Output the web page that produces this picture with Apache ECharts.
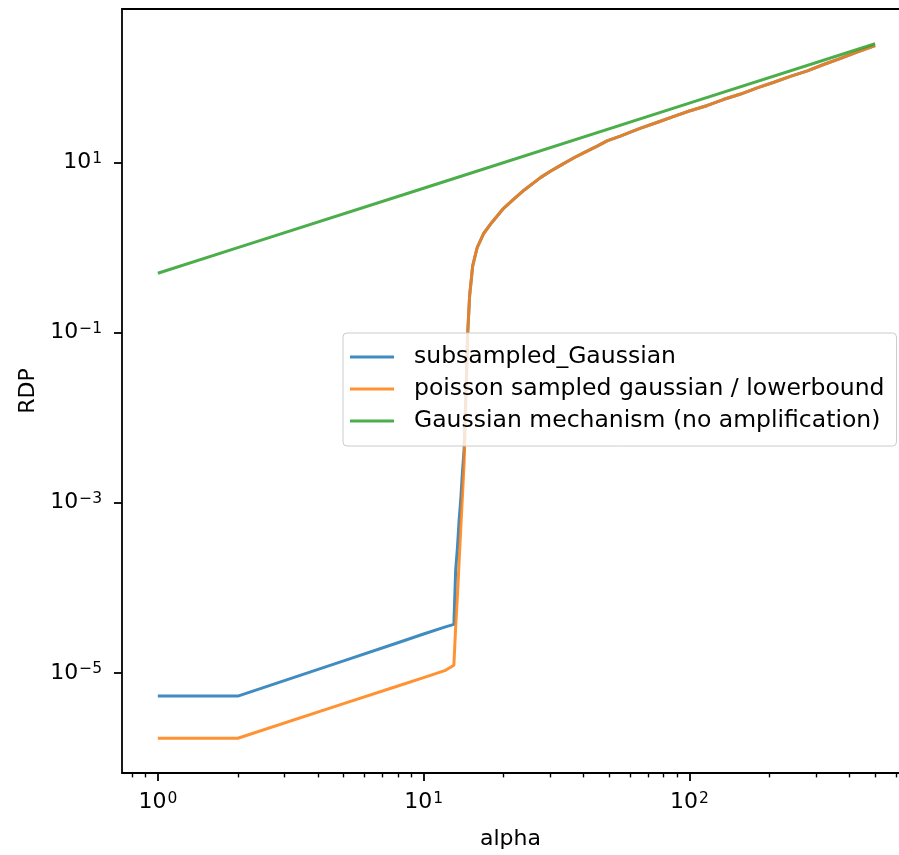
<!DOCTYPE html>
<html>
<head>
<meta charset="utf-8">
<script src="https://cdn.jsdelivr.net/npm/echarts@6/dist/echarts.min.js"></script>
<style>
html,body{margin:0;padding:0;background:#fff;}
#chart{width:899px;height:855px;}
</style>
</head>
<body>
<div id="chart"></div>
<script>
// ---- data ----
const seriesNames = ['subsampled_Gaussian', 'poisson sampled gaussian / lowerbound', 'Gaussian mechanism (no amplification)'];

const alphaCurve = [1, 2, 5, 8, 10, 12, 13, 13.2, 13.4, 13.6, 13.8, 14.0, 14.2, 14.45, 14.65, 14.9, 15.3, 15.9, 16.8, 18, 20, 22, 24, 27.6, 30, 33, 36.8, 40, 45, 49, 55, 60, 65.6, 75, 87.5, 100, 117, 135, 156, 180, 208, 240, 278, 320, 371, 430, 500];

const subsampledGaussian = [5.33e-6, 5.33e-6, 1.38e-5, 2.26e-5, 2.86e-5, 3.45e-5, 3.71e-5, 1.6e-4, 2.9e-4, 6.2e-4, 1.1e-3, 2.3e-3, 4.2e-3, 0.022, 0.0975, 0.272, 0.612, 0.997, 1.456, 1.95, 2.9, 3.8, 4.8, 6.7, 7.9, 9.4, 11.4, 13.0, 15.6, 18, 20.5, 22.8, 25.4, 29.4, 35, 40.4, 47, 55.5, 64, 75.6, 88, 103.4, 120, 142.4, 168, 200, 238];

const poissonLowerbound = [1.70e-6, 1.70e-6, 4.34e-6, 7.0e-6, 8.8e-6, 1.06e-5, 1.23e-5, 3.44e-5, 7.8e-5, 2.0e-4, 5.0e-4, 1.2e-3, 2.86e-3, 0.0193, 0.0975, 0.272, 0.612, 0.997, 1.456, 1.95, 2.9, 3.8, 4.8, 6.7, 7.9, 9.4, 11.4, 13.0, 15.6, 18, 20.5, 22.8, 25.4, 29.4, 35, 40.4, 47, 55.5, 64, 75.6, 88, 103.4, 120, 142.4, 168, 200, 238];

const alphaGaussian = [1, 2, 10, 100, 500];
const gaussianMechanism = [0.5, 1, 5, 50, 250];

const xMajorTicks = [1, 10, 100];
const xMinorTicks = [0.8, 0.9, 2, 3, 4, 5, 6, 7, 8, 9, 20, 30, 40, 50, 60, 70, 80, 90, 200, 300, 400, 500, 600];
const yMajorTicks = [1e-5, 1e-3, 1e-1, 10];

const xRange = [0.733, 615];
const yRange = [6.64e-7, 640];

// ---- styling ----
const FONT = 'DejaVu Sans';
const colors = ['#1f77b4', '#ff7f0e', '#2ca02c'];
const LINE_ALPHA = 0.85;

function pairs(xs, ys) { return xs.map((x, i) => [x, ys[i]]); }

function powLabel(v) {
  const e = Math.round(Math.log10(v));
  const s = String(e).replace('-', '\u2212');
  return '{b|10}{s|' + s + '}';
}
const richLabel = {
  b: { fontSize: 22, fontFamily: FONT, color: '#000' },
  s: { fontSize: 15.5, fontFamily: FONT, color: '#000', padding: [0, 0, 7, 1] }
};

function lineSeries(i, xs, ys) {
  return {
    name: seriesNames[i], type: 'line', xAxisIndex: 0, data: pairs(xs, ys),
    showSymbol: false, symbol: 'none',
    lineStyle: { width: 3, color: colors[i], opacity: LINE_ALPHA },
    itemStyle: { color: colors[i], opacity: LINE_ALPHA }
  };
}

const chart = echarts.init(document.getElementById('chart'), null, { renderer: 'canvas' });

const option = {
  animation: false,
  backgroundColor: '#fff',
  color: colors,
  grid: { left: 122, top: 9, right: 0, bottom: 81.5, show: false },
  legend: {
    orient: 'vertical',
    left: 343, top: 333,
    padding: [12, 12, 13, 7],
    itemGap: 8,
    itemWidth: 44, itemHeight: 3,
    icon: 'rect',
    backgroundColor: 'rgba(255,255,255,0.8)',
    borderColor: '#cccccc', borderWidth: 1, borderRadius: 4,
    textStyle: { fontFamily: FONT, fontSize: 23.5, color: '#000', padding: [0, 0, 0, 15] },
    data: seriesNames
  },
  xAxis: [{
    type: 'log', logBase: 10, min: xRange[0], max: xRange[1],
    name: 'alpha', nameLocation: 'middle', nameGap: 55,
    nameTextStyle: { fontFamily: FONT, fontSize: 22, color: '#000' },
    axisLine: { show: true, lineStyle: { color: '#000', width: 1.8 } },
    axisTick: { show: true, length: 8, lineStyle: { color: '#000', width: 1.8 }, customValues: xMajorTicks },
    axisLabel: { show: true, customValues: xMajorTicks, margin: 18, formatter: powLabel, rich: richLabel },
    splitLine: { show: false }
  }, {
    type: 'log', logBase: 10, min: xRange[0], max: xRange[1], position: 'bottom',
    axisLine: { show: false },
    axisTick: { show: true, length: 4.4, lineStyle: { color: '#000', width: 1.4 }, customValues: xMinorTicks },
    axisLabel: { show: false },
    splitLine: { show: false }
  }, {
    type: 'log', logBase: 10, min: xRange[0], max: xRange[1], position: 'top',
    axisLine: { show: true, lineStyle: { color: '#000', width: 1.8 } },
    axisTick: { show: false },
    axisLabel: { show: false },
    splitLine: { show: false }
  }],
  yAxis: {
    type: 'log', logBase: 10, min: yRange[0], max: yRange[1],
    name: 'RDP', nameLocation: 'middle', nameGap: 80,
    nameTextStyle: { fontFamily: FONT, fontSize: 22, color: '#000' },
    axisLine: { show: true, lineStyle: { color: '#000', width: 1.8 } },
    axisTick: { show: true, length: 8, lineStyle: { color: '#000', width: 1.8 }, customValues: yMajorTicks },
    axisLabel: { show: true, customValues: yMajorTicks, margin: 20, formatter: powLabel, rich: richLabel },
    splitLine: { show: false }
  },
  series: [
    lineSeries(0, alphaCurve, subsampledGaussian),
    lineSeries(1, alphaCurve, poissonLowerbound),
    lineSeries(2, alphaGaussian, gaussianMechanism)
  ]
};
chart.setOption(option);
</script>
</body>
</html>
